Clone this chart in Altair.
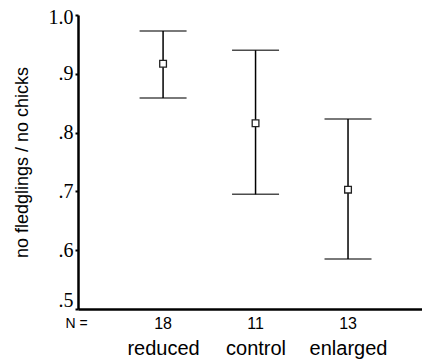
import altair as alt
import pandas as pd

categories = ["reduced", "control", "enlarged"]
positions = [1, 2, 3]
counts = ["18", "11", "13"]
means = [0.917, 0.816, 0.703]
lows = [0.859, 0.695, 0.585]
highs = [0.973, 0.940, 0.823]

df = pd.DataFrame({"cat": categories, "idx": positions, "n": counts,
                   "mean": means, "low": lows, "high": highs})

label_expr = "datum.value == 1 ? 'reduced' : datum.value == 2 ? 'control' : datum.value == 3 ? 'enlarged' : ''"

xs = alt.Scale(domain=[0.08, 3.8], nice=False, zero=False)
ys = alt.Scale(domain=[0.5, 1.0], nice=False, zero=False)

base = alt.Chart(df)

x_axis = alt.Axis(values=[1, 2, 3], labelExpr=label_expr, grid=False,
                  domainColor="black", domainWidth=2.5, tickSize=0,
                  labelPadding=29, labelFont="Liberation Sans", labelFontSize=20,
                  labelColor="black", title="N =", titleFont="Liberation Sans",
                  titleFontSize=14, titleFontWeight="normal", titleAngle=0,
                  titleX=-2, titleY=14, titleAlign="center", titleBaseline="middle",
                  titleColor="black")
y_axis = alt.Axis(values=[0.5, 0.6, 0.7, 0.8, 0.9, 1.0],
                  labelExpr="replace(format(datum.value, '.1f'), '0.', '.')",
                  labelOffset={"condition": [{"test": "datum.value == 0.5", "value": -9},
                                             {"test": "datum.value == 1", "value": 2}],
                               "value": 0},
                  grid=False, domainColor="black", domainWidth=2.5,
                  tickSize=3, tickWidth=2, tickColor="black", labelPadding=2,
                  labelFont="Liberation Serif", labelFontSize=20, labelColor="black",
                  title="no fledglings / no chicks", titleFont="Liberation Sans",
                  titleFontSize=18, titleFontWeight="normal", titleColor="black",
                  titlePadding=17)

rules = base.mark_rule(color="black", strokeWidth=1.5).encode(
    x=alt.X("idx:Q", scale=xs, axis=x_axis),
    y=alt.Y("low:Q", scale=ys, axis=y_axis),
    y2="high:Q",
)
caps_hi = base.mark_tick(orient="horizontal", size=47, thickness=1.5, color="black").encode(
    x=alt.X("idx:Q", scale=xs), y=alt.Y("high:Q", scale=ys))
caps_lo = base.mark_tick(orient="horizontal", size=47, thickness=1.5, color="black").encode(
    x=alt.X("idx:Q", scale=xs), y=alt.Y("low:Q", scale=ys))
pts = base.mark_point(shape="square", size=45, fill="white", fillOpacity=1,
                      stroke="#222", strokeWidth=1.3, opacity=1).encode(
    x=alt.X("idx:Q", scale=xs), y=alt.Y("mean:Q", scale=ys))
ntext = base.mark_text(font="Liberation Sans", fontSize=16, color="black",
                       baseline="middle").encode(
    x=alt.X("idx:Q", scale=xs), y=alt.value(309), text="n:N")

chart = alt.layer(rules, caps_hi, caps_lo, pts, ntext).properties(
    width=344, height=294,
    autosize=alt.AutoSizeParams(type="none"),
    padding={"left": 70, "top": 7, "right": 0, "bottom": 52},
).configure_view(stroke=None)

chart.save("out.html", embed_options={"renderer": "svg", "actions": False})
